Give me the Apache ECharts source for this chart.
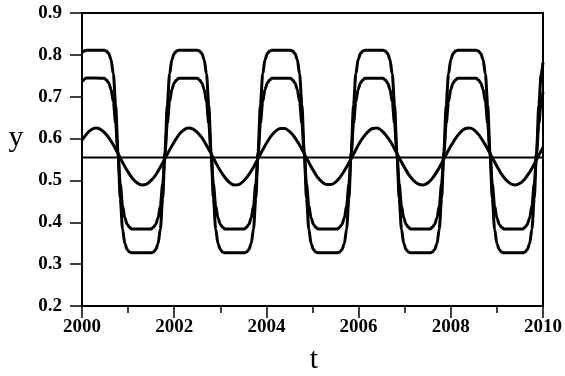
<!DOCTYPE html>
<html>
<head>
<meta charset="utf-8">
<script src="https://cdn.jsdelivr.net/npm/echarts@6/dist/echarts.min.js"></script>
<style>
html,body{margin:0;padding:0;background:#fff;}
#chart{width:565px;height:376px;}
</style>
</head>
<body>
<div id="chart"></div>
<script>
// x tick labels
var xTicks = [2000, 2002, 2004, 2006, 2008, 2010];
var yTicks = [0.2, 0.3, 0.4, 0.5, 0.6, 0.7, 0.8, 0.9];

// smooth wave (years after 2000, step 0.1)
var yC = [0.596,0.611,0.621,0.625,0.622,0.613,0.599,0.581,0.560,0.539,
0.520,0.504,0.494,0.489,0.491,0.500,0.513,0.532,0.552,0.573,
0.592,0.609,0.620,0.625,0.623,0.615,0.602,0.584,0.564,0.543,
0.523,0.507,0.495,0.489,0.490,0.498,0.511,0.528,0.548,0.569,
0.589,0.606,0.618,0.624,0.624,0.617,0.605,0.588,0.568,0.547,
0.527,0.509,0.497,0.490,0.490,0.496,0.508,0.525,0.544,0.565,
0.586,0.603,0.616,0.624,0.625,0.619,0.607,0.591,0.571,0.550,
0.530,0.512,0.499,0.491,0.489,0.494,0.505,0.521,0.541,0.562,
0.582,0.600,0.614,0.623,0.625,0.621,0.610,0.594,0.575,0.554,
0.534,0.515,0.501,0.492,0.489,0.493,0.503,0.518,0.537,0.558,
0.579];

// square-like waves: sample times (years after 2000)
var tSq = [0, 0.1,
0.48,0.53,0.58,0.63,0.68,0.73,0.78,0.83,0.88,0.93,0.98,1.03,1.08,
1.50,1.55,1.60,1.65,1.70,1.75,1.80,1.85,1.90,1.95,2.00,2.05,2.10,
2.50,2.55,2.60,2.65,2.70,2.75,2.80,2.85,2.90,2.95,3.00,3.05,3.10,
3.52,3.57,3.62,3.67,3.72,3.77,3.82,3.87,3.92,3.97,4.02,4.07,4.12,
4.52,4.57,4.62,4.67,4.72,4.77,4.82,4.87,4.92,4.97,5.02,5.07,5.12,
5.54,5.59,5.64,5.69,5.74,5.79,5.84,5.89,5.94,5.99,6.04,6.09,6.14,
6.53,6.58,6.63,6.68,6.73,6.78,6.83,6.88,6.93,6.98,7.03,7.08,7.13,
7.55,7.60,7.65,7.70,7.75,7.80,7.85,7.90,7.95,8.00,8.05,8.10,8.15,
8.55,8.60,8.65,8.70,8.75,8.80,8.85,8.90,8.95,9.00,9.05,9.10,9.15,
9.56,9.61,9.66,9.71,9.76,9.81,9.86,9.91,9.96,10.0];

var yA = [0.806, 0.811,
0.811,0.809,0.803,0.789,0.754,0.681,0.569,0.457,0.384,0.349,0.335,0.329,0.327,
0.327,0.329,0.335,0.349,0.384,0.457,0.569,0.681,0.754,0.789,0.803,0.809,0.811,
0.811,0.809,0.803,0.789,0.754,0.681,0.569,0.457,0.384,0.349,0.335,0.329,0.327,
0.327,0.329,0.335,0.349,0.384,0.457,0.569,0.681,0.754,0.789,0.803,0.809,0.811,
0.811,0.809,0.803,0.789,0.754,0.681,0.569,0.457,0.384,0.349,0.335,0.329,0.327,
0.327,0.329,0.335,0.349,0.384,0.457,0.569,0.681,0.754,0.789,0.803,0.809,0.811,
0.811,0.809,0.803,0.789,0.754,0.681,0.569,0.457,0.384,0.349,0.335,0.329,0.327,
0.327,0.329,0.335,0.349,0.384,0.457,0.569,0.681,0.754,0.789,0.803,0.809,0.811,
0.811,0.809,0.803,0.789,0.754,0.681,0.569,0.457,0.384,0.349,0.335,0.329,0.327,
0.327,0.329,0.335,0.349,0.384,0.457,0.569,0.681,0.754,0.782];

var yB = [0.736, 0.745,
0.744,0.740,0.733,0.718,0.688,0.636,0.564,0.492,0.440,0.410,0.395,0.388,0.384,
0.384,0.388,0.395,0.410,0.440,0.492,0.564,0.636,0.688,0.718,0.733,0.740,0.744,
0.744,0.740,0.733,0.718,0.688,0.636,0.564,0.492,0.440,0.410,0.395,0.388,0.384,
0.384,0.388,0.395,0.410,0.440,0.492,0.564,0.636,0.688,0.718,0.733,0.740,0.744,
0.744,0.740,0.733,0.718,0.688,0.636,0.564,0.492,0.440,0.410,0.395,0.388,0.384,
0.384,0.388,0.395,0.410,0.440,0.492,0.564,0.636,0.688,0.718,0.733,0.740,0.744,
0.744,0.740,0.733,0.718,0.688,0.636,0.564,0.492,0.440,0.410,0.395,0.388,0.384,
0.384,0.388,0.395,0.410,0.440,0.492,0.564,0.636,0.688,0.718,0.733,0.740,0.744,
0.744,0.740,0.733,0.718,0.688,0.636,0.564,0.492,0.440,0.410,0.395,0.388,0.384,
0.384,0.388,0.395,0.410,0.440,0.492,0.564,0.636,0.688,0.712];

// flat reference line
var tFlat = [0, 10];
var yFlat = [0.555, 0.555];

var x0 = xTicks[0];
function pairs(ts, ys){ return ts.map(function(t,i){ return [x0 + t, ys[i]]; }); }
var tC = yC.map(function(_, i){ return Math.round(i) / 10; });

var chart = echarts.init(document.getElementById('chart'), null, {renderer:'canvas'});
var lab = {fontFamily:'Liberation Serif', fontWeight:'bold', fontSize:19, color:'#000'};
chart.setOption({
  animation:false,
  backgroundColor:'#fff',
  grid:{left:82, right:16, top:13, bottom:70, show:true, borderColor:'#000', borderWidth:2, backgroundColor:'transparent'},
  xAxis:{type:'value', min:xTicks[0], max:xTicks[xTicks.length-1], interval:2,
    axisLine:{show:true, lineStyle:{color:'#000', width:2}},
    axisTick:{show:true, inside:false, length:12, lineStyle:{color:'#000', width:1.5}},
    minorTick:{show:true, splitNumber:2, length:7, lineStyle:{color:'#000', width:1.5}},
    splitLine:{show:false},
    axisLabel:Object.assign({margin:12, showMinLabel:true, showMaxLabel:true, hideOverlap:false,
      formatter:function(v){ return String(v); }}, lab)
  },
  yAxis:{type:'value', min:yTicks[0], max:yTicks[yTicks.length-1], interval:0.1,
    axisLine:{show:true, lineStyle:{color:'#000', width:2}},
    axisTick:{show:true, inside:false, length:12, lineStyle:{color:'#000', width:1.5}},
    splitLine:{show:false},
    axisLabel:Object.assign({margin:20, formatter:function(v){ return v.toFixed(1); }}, lab)
  },
  graphic:[
    {type:'text', left:null, x:314, y:360, style:{text:'t', font:'30px "Liberation Serif"', fill:'#000', textAlign:'center', textVerticalAlign:'middle'}},
    {type:'text', x:16, y:138, style:{text:'y', font:'30px "Liberation Serif"', fill:'#000', textAlign:'center', textVerticalAlign:'middle'}}
  ],
  series:[
    {type:'line', data:pairs(tFlat, yFlat), showSymbol:false, lineStyle:{color:'#000', width:2}},
    {type:'line', data:pairs(tC, yC), showSymbol:false, smooth:0.3, lineStyle:{color:'#000', width:3}},
    {type:'line', data:pairs(tSq, yB), showSymbol:false, smooth:0.3, smoothMonotone:'x', lineStyle:{color:'#000', width:3}},
    {type:'line', data:pairs(tSq, yA), showSymbol:false, smooth:0.3, smoothMonotone:'x', lineStyle:{color:'#000', width:3}}
  ]
});
</script>
</body>
</html>
